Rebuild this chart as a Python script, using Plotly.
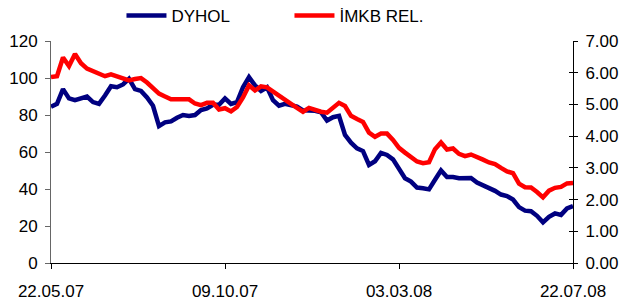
import plotly.graph_objects as go

# Trading-day sample index (equally spaced samples between 22.05.07 and 22.07.08)
tick_labels = ["22.05.07", "09.10.07", "03.03.08", "22.07.08"]
tick_index = [0, 29, 58, 87]

# DYHOL (left axis)
dyhol = [84.5, 86, 94, 89, 88, 89, 90, 87, 86, 90.5,
         95.5, 95, 96.5, 99.5, 94, 93, 89.5, 85, 74, 76,
         76.5, 78.5, 80, 79.5, 80, 82.7, 83.6, 85.5, 85.5, 89,
         86, 87, 95, 100.5, 96, 93, 95, 88, 85, 86,
         85.5, 84.5, 82.5, 82.5, 82.3, 81.5, 77, 78.8, 79.5, 69.2,
         65, 62, 60.5, 53, 55, 59.5, 58.4, 56, 50.5, 45.8,
         44, 40.8, 40.4, 39.8, 45, 50, 46.5, 46.5, 45.8, 45.8,
         46, 43.5, 42.2, 40.8, 39, 37, 36.2, 34.3, 30.2, 28.3,
         28, 25.5, 22, 25, 26.8, 26, 29.5, 30.8]

# IMKB REL. (right axis)
imkb_rel = [5.86, 5.89, 6.48, 6.21, 6.59, 6.30, 6.13, 6.04, 5.97, 5.89,
            5.95, 5.89, 5.80, 5.76, 5.80, 5.83, 5.69, 5.50, 5.34, 5.25,
            5.16, 5.16, 5.16, 5.16, 5.03, 4.98, 5.05, 5.05, 4.84, 4.88,
            4.78, 4.92, 5.22, 5.60, 5.44, 5.57, 5.54, 5.40, 5.30, 5.13,
            5.02, 4.89, 4.77, 4.89, 4.82, 4.77, 4.74, 4.91, 5.05, 4.95,
            4.64, 4.54, 4.45, 4.11, 3.98, 4.08, 4.08, 3.88, 3.63, 3.48,
            3.33, 3.20, 3.15, 3.18, 3.59, 3.80, 3.58, 3.61, 3.44, 3.37,
            3.42, 3.35, 3.26, 3.17, 3.12, 3.00, 2.89, 2.83, 2.50, 2.39,
            2.38, 2.24, 2.07, 2.28, 2.37, 2.40, 2.51, 2.52]

x = list(range(len(dyhol)))

FONT = "Liberation Sans, Arial, sans-serif"

fig = go.Figure()
fig.add_trace(go.Scatter(x=x, y=dyhol, name="DYHOL", mode="lines",
                         line=dict(color="#000080", width=4.5), yaxis="y"))
fig.add_trace(go.Scatter(x=x, y=imkb_rel, name="İMKB REL.", mode="lines",
                         line=dict(color="#FF0000", width=4.5), yaxis="y2"))

fig.update_layout(
    width=625, height=303,
    margin=dict(l=51, r=52, t=41, b=40, autoexpand=False),
    paper_bgcolor="white", plot_bgcolor="white",
    font=dict(family=FONT, size=17, color="black"),
    showlegend=True,
    legend=dict(orientation="h", x=0.135, y=1.113, xanchor="left", yanchor="middle",
                font=dict(size=17), itemwidth=40, entrywidth=113, entrywidthmode="pixels",
                bgcolor="rgba(0,0,0,0)"),
    xaxis=dict(range=[0, len(dyhol) - 1], tickmode="array", tickvals=tick_index,
               ticktext=tick_labels, showgrid=False, zeroline=False,
               showline=True, linecolor="black", linewidth=1,
               ticks="outside", ticklen=5, tickcolor="black",
               ticklabelstandoff=8, tickfont=dict(size=17)),
    yaxis=dict(range=[0, 120], dtick=20, showgrid=False, zeroline=False,
               showline=True, linecolor="#666666", linewidth=1,
               ticks="outside", ticklen=5, tickcolor="#666666",
               tickfont=dict(size=17), ticklabelstandoff=4),
    yaxis2=dict(range=[0, 7], dtick=1, tickformat=".2f", overlaying="y", side="right",
                showgrid=False, zeroline=False, showline=True, linecolor="black",
                linewidth=1, ticks="outside", ticklen=4, tickcolor="black",
                tickfont=dict(size=17), ticklabelstandoff=4),
    yaxis3=dict(range=[0, 7], dtick=1, overlaying="y", side="right",
                showgrid=False, zeroline=False, showline=False,
                ticks="inside", ticklen=4, tickcolor="black", showticklabels=False),
)
# empty helper trace so the inside ticks of the right axis render
fig.add_trace(go.Scatter(x=[], y=[], yaxis="y3", showlegend=False, hoverinfo="skip"))

fig.write_html("out.html", config={"displayModeBar": False},
               post_script="document.body.style.margin='0';")
